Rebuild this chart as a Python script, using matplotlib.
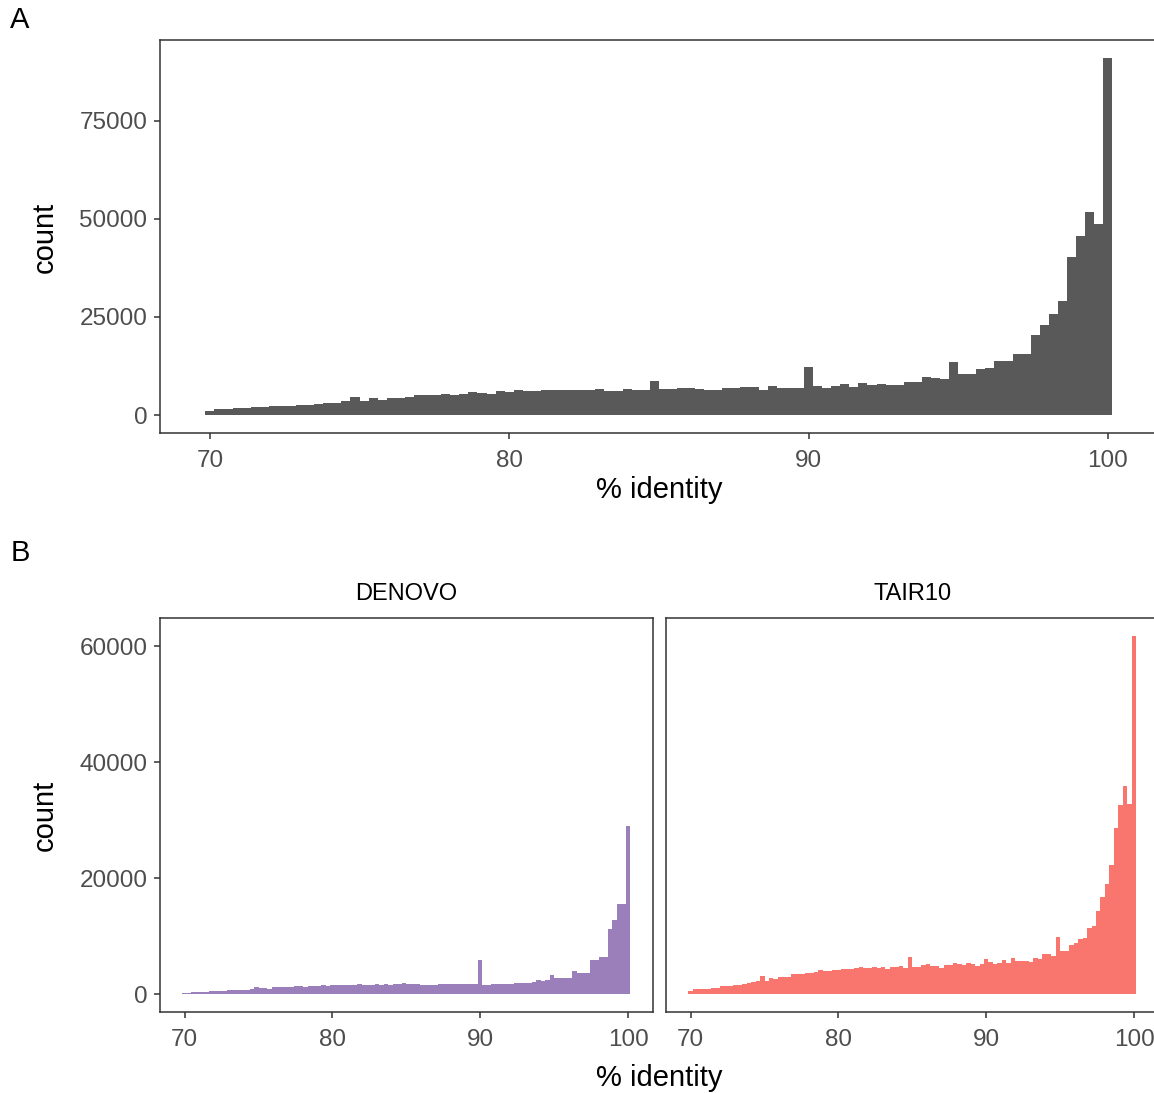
import matplotlib
matplotlib.use("Agg")
import matplotlib.pyplot as plt
import numpy as np

# histogram counts, 100 bins between 70 and 100 (% identity)
all_counts = [
    1010, 1600, 1690, 1780, 1940, 2030, 2030, 2200, 2280, 2450,
    2540, 2620, 2870, 3040, 3200, 3720, 4650, 3630, 4390, 3970,
    4480, 4480, 4650, 5070, 5070, 5070, 5490, 5240, 5400, 6000,
    5750, 5490, 6170, 5950, 6420, 6250, 6250, 6500, 6500, 6340,
    6420, 6500, 6500, 6680, 6250, 6250, 6680, 6500, 6500, 8790,
    6680, 6590, 6930, 6930, 6680, 6500, 6500, 6840, 6840, 7180,
    7100, 6500, 7440, 6930, 6930, 7010, 12340, 7390, 6890, 7310,
    7900, 7220, 8150, 7560, 7820, 7650, 7650, 8410, 8490, 9680,
    9510, 9170, 13480, 10600, 10600, 11700, 12040, 13730, 13730, 15670,
    15670, 20410, 23030, 25730, 29030, 40180, 45590, 51760, 48720, 91000,
]

denovo_counts = [
    290, 315, 340, 370, 400, 460, 520, 545, 570, 630,
    690, 715, 745, 775, 800, 920, 1200, 1090, 1090, 970,
    1200, 1200, 1260, 1260, 1320, 1375, 1375, 1320, 1430, 1430,
    1430, 1550, 1490, 1660, 1660, 1550, 1660, 1600, 1660, 1720,
    1600, 1600, 1660, 1720, 1660, 1720, 1660, 1780, 1720, 2060,
    1830, 1720, 1830, 1660, 1660, 1660, 1660, 1720, 1720, 1720,
    1780, 1720, 1830, 1720, 1780, 1780, 6020, 1600, 1550, 1830,
    1830, 1780, 1830, 1780, 1950, 1890, 1890, 2010, 2120, 2410,
    2350, 2410, 3320, 2870, 2920, 2870, 2870, 4010, 3780, 3780,
    3780, 5900, 5900, 6420, 6480, 11350, 12780, 15640, 15640, 29050,
]

tair10_counts = [
    520, 920, 920, 860, 970, 1150, 1150, 1375, 1375, 1490,
    1600, 1600, 1830, 1890, 2120, 2350, 3210, 2350, 2750, 2580,
    2980, 2980, 3040, 3500, 3440, 3550, 3720, 3670, 3950, 4180,
    4010, 4070, 4240, 4240, 4350, 4470, 4350, 4530, 4760, 4530,
    4640, 4760, 4640, 4700, 4470, 4700, 4810, 4870, 4530, 6530,
    4810, 4810, 5040, 5210, 4930, 4930, 4530, 5040, 5040, 5390,
    5330, 4990, 5440, 5270, 4930, 5270, 6070, 5620, 5270, 5440,
    5900, 5390, 6250, 5730, 5730, 5730, 5670, 6360, 6070, 6930,
    6990, 6650, 9910, 7510, 7560, 8600, 8940, 9630, 9680, 11520,
    11860, 14380, 16850, 19080, 22230, 28590, 32550, 35810, 32780, 61770,
]

facet_names = ["DENOVO", "TAIR10"]
facet_colors = ["#9B7FBA", "#F8766D"]
x_ticks = [70, 80, 90, 100]

plt.rcParams["font.family"] = ["Liberation Sans", "DejaVu Sans"]

W, H = 1154, 1093
fig = plt.figure(figsize=(W / 100, H / 100), dpi=100)

n_bins = len(all_counts)
bw = 30 / (n_bins - 1)
edges = 70 - bw / 2 + bw * np.arange(n_bins + 1)
xlo, xhi = edges[0] - 0.05 * (edges[-1] - edges[0]), edges[-1] + 0.05 * (edges[-1] - edges[0])


def style_axes(ax, yticks):
    for s in ax.spines.values():
        s.set_color("#333333")
        s.set_linewidth(1.1)
    ax.set_xticks(x_ticks)
    ax.set_yticks(yticks)
    ax.tick_params(colors="#333333", labelcolor="#4D4D4D", labelsize=17.5,
                   length=4, width=1.1)
    ax.tick_params(axis="x", pad=8)
    ax.tick_params(axis="y", pad=5)
    ax.set_xlim(xlo, xhi)


def fx(px):
    return px / W


def fy(py):
    return 1 - py / H


# panel A
ax = fig.add_axes([fx(160), fy(433), (1157.7 - 160) / W, (433 - 40) / H])
ax.stairs(all_counts, edges, fill=True, color="#595959", linewidth=0)
ymax = max(all_counts)
ax.set_ylim(-0.05 * ymax, 1.05 * ymax)
style_axes(ax, [0, 25000, 50000, 75000])

fig.text(fx(45), fy(237), "count", rotation=90, ha="center", va="center", fontsize=21)
fig.text(fx(659), fy(490), "% identity", ha="center", va="center", fontsize=21)
fig.text(fx(20), fy(20), "A", ha="center", va="center", fontsize=21)
fig.text(fx(20), fy(553), "B", ha="center", va="center", fontsize=21)

# panel B facets
ymax_b = max(max(denovo_counts), max(tair10_counts))
for i, (name, counts, color) in enumerate(zip(facet_names, [denovo_counts, tair10_counts], facet_colors)):
    left = 160 if i == 0 else 666
    axb = fig.add_axes([fx(left), fy(1012.4), 492.7 / W, (1012.4 - 617.8) / H])
    axb.stairs(counts, edges, fill=True, color=color, linewidth=0)
    axb.set_ylim(-0.05 * ymax_b, 1.05 * ymax_b)
    style_axes(axb, [0, 20000, 40000, 60000])
    if i > 0:
        axb.tick_params(axis="y", left=False, labelleft=False)
    fig.text(fx(left + 492.7 / 2), fy(594), name, ha="center", va="center", fontsize=17)

fig.text(fx(45), fy(815), "count", rotation=90, ha="center", va="center", fontsize=21)
fig.text(fx(659), fy(1078), "% identity", ha="center", va="center", fontsize=21)

fig.savefig("out.png", dpi=100, facecolor="white")
